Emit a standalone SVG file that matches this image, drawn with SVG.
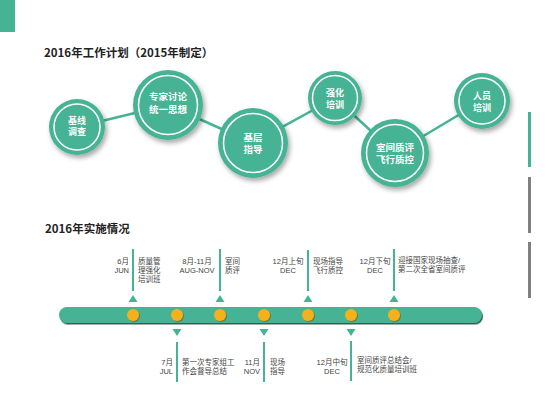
<svg xmlns="http://www.w3.org/2000/svg" width="550" height="413" viewBox="0 0 550 413">
<defs>
<filter id="sh" x="-30%" y="-30%" width="170%" height="170%">
<feDropShadow dx="2" dy="3" stdDeviation="2.5" flood-color="#000" flood-opacity="0.35"/>
</filter>
<filter id="bsh" x="-5%" y="-40%" width="110%" height="190%">
<feDropShadow dx="1" dy="1.5" stdDeviation="0.6" flood-color="#1b4f40" flood-opacity="0.9"/>
</filter>
<filter id="dsh" x="-50%" y="-50%" width="200%" height="200%">
<feDropShadow dx="1" dy="1" stdDeviation="0.7" flood-color="#7a5a00" flood-opacity="0.6"/>
</filter>
<style>
.c{fill:#45b394;filter:url(#sh)}
.r{fill:none;stroke:#fff;stroke-width:1.5}
.ct{font-family:"Liberation Sans","Noto Sans CJK SC",sans-serif;font-weight:bold;fill:#fff;text-anchor:middle}
.h{font-family:"Noto Sans CJK SC","Noto Sans",sans-serif;font-weight:bold;font-size:11.5px;fill:#222}
.t{font-family:"Liberation Sans","Noto Sans CJK SC",sans-serif;font-size:7.5px;fill:#444}
.e{text-anchor:end}
.m{text-anchor:middle}
.v{stroke:#45b394;stroke-width:2}
.tri{fill:#45b394}
.dot{fill:#f5b11d;filter:url(#dsh)}
.ln{stroke:#45b394;stroke-width:2.5}
</style>
</defs>
<rect x="0" y="0" width="15" height="32" fill="#45b394"/>
<rect x="528" y="112" width="3" height="55" fill="#45b394"/>
<rect x="528" y="177" width="3" height="56" fill="#808080"/>
<rect x="528" y="242" width="3" height="56" fill="#808080"/>
<text class="h" x="44" y="57">2016年工作计划（2015年制定）</text>
<text class="h" x="45" y="233">2016年实施情况</text>
<g id="connectors">
<line class="ln" x1="77" y1="127" x2="168" y2="105"/>
<line class="ln" x1="168" y1="105" x2="253" y2="143"/>
<line class="ln" x1="253" y1="143" x2="335" y2="98"/>
<line class="ln" x1="335" y1="98" x2="395" y2="153"/>
<line class="ln" x1="395" y1="153" x2="482" y2="101"/>
</g>
<g id="n1"><circle class="c" cx="77" cy="127" r="28"/><circle class="r" cx="77" cy="127" r="23"/>
<text class="ct" font-size="9" x="77" y="124">基线</text><text class="ct" font-size="9" x="77" y="135">调查</text></g>
<g id="n2"><circle class="c" cx="168" cy="105" r="35"/><circle class="r" cx="168" cy="105" r="29.5"/>
<text class="ct" font-size="9.5" x="168" y="100">专家讨论</text><text class="ct" font-size="9.5" x="168" y="113">统一思想</text></g>
<g id="n3"><circle class="c" cx="253" cy="143" r="35"/><circle class="r" cx="253" cy="143" r="29.5"/>
<text class="ct" font-size="9.5" x="253" y="141">基层</text><text class="ct" font-size="9.5" x="253" y="153">指导</text></g>
<g id="n4"><circle class="c" cx="335" cy="98" r="27"/><circle class="r" cx="335" cy="98" r="22.5"/>
<text class="ct" font-size="9" x="335" y="96">强化</text><text class="ct" font-size="9" x="335" y="108">培训</text></g>
<g id="n5"><circle class="c" cx="395" cy="153" r="34"/><circle class="r" cx="395" cy="153" r="28.5"/>
<text class="ct" font-size="9.5" x="395" y="151">室间质评</text><text class="ct" font-size="9.5" x="395" y="163">飞行质控</text></g>
<g id="n6"><circle class="c" cx="482" cy="101" r="28"/><circle class="r" cx="482" cy="101" r="23"/>
<text class="ct" font-size="9" x="482" y="99">人员</text><text class="ct" font-size="9" x="482" y="111">培训</text></g>
<g id="timeline">
<rect x="59" y="307" width="423" height="16" rx="8" fill="#45b394" filter="url(#bsh)"/>
<circle class="dot" cx="133" cy="315" r="6"/>
<circle class="dot" cx="177" cy="315" r="6"/>
<circle class="dot" cx="220" cy="315" r="6"/>
<circle class="dot" cx="264" cy="315" r="6"/>
<circle class="dot" cx="308" cy="315" r="6"/>
<circle class="dot" cx="351" cy="315" r="6"/>
<circle class="dot" cx="394" cy="315" r="6"/>
</g>
<g id="m1"><line class="v" x1="133" y1="249" x2="133" y2="291"/><polygon class="tri" points="133,295 137.5,302 128.5,302"/>
<text class="t e" x="129" y="264">6月</text><text class="t e" x="129" y="273">JUN</text>
<text class="t" x="138" y="264">质量管</text><text class="t" x="138" y="273">理强化</text><text class="t" x="138" y="282">培训班</text></g>
<g id="m2"><line class="v" x1="220" y1="249" x2="220" y2="291"/><polygon class="tri" points="220,295 224.5,302 215.5,302"/>
<text class="t m" x="197" y="264">8月-11月</text><text class="t m" x="197" y="273">AUG-NOV</text>
<text class="t" x="225" y="264">室间</text><text class="t" x="225" y="273">质评</text></g>
<g id="m3"><line class="v" x1="308" y1="250" x2="308" y2="291"/><polygon class="tri" points="308,295 312.5,302 303.5,302"/>
<text class="t m" x="288" y="264">12月上旬</text><text class="t m" x="288" y="273">DEC</text>
<text class="t" x="313" y="264">现场指导</text><text class="t" x="313" y="273">飞行质控</text></g>
<g id="m4"><line class="v" x1="394" y1="249" x2="394" y2="291"/><polygon class="tri" points="394,295 398.5,302 389.5,302"/>
<text class="t m" x="375" y="264">12月下旬</text><text class="t m" x="375" y="273">DEC</text>
<text class="t" x="398" y="263">迎接国家现场抽查/</text><text class="t" x="398" y="272">第二次全省室间质评</text></g>
<g id="m5"><polygon class="tri" points="172.5,329 181.5,329 177,336"/><line class="v" x1="177" y1="342" x2="177" y2="382"/>
<text class="t e" x="173" y="365">7月</text><text class="t e" x="173" y="374">JUL</text>
<text class="t" x="182" y="365">第一次专家组工</text><text class="t" x="182" y="374">作会督导总结</text></g>
<g id="m6"><polygon class="tri" points="259.5,329 268.5,329 264,336"/><line class="v" x1="264" y1="342" x2="264" y2="382"/>
<text class="t e" x="260" y="365">11月</text><text class="t e" x="260" y="374">NOV</text>
<text class="t" x="270" y="365">现场</text><text class="t" x="270" y="374">指导</text></g>
<g id="m7"><polygon class="tri" points="346.5,329 355.5,329 351,336"/><line class="v" x1="351" y1="341" x2="351" y2="381"/>
<text class="t m" x="332" y="365">12月中旬</text><text class="t m" x="332" y="374">DEC</text>
<text class="t" x="357" y="363">室间质评总结会/</text><text class="t" x="357" y="372">规范化质量培训班</text></g>
</svg>
